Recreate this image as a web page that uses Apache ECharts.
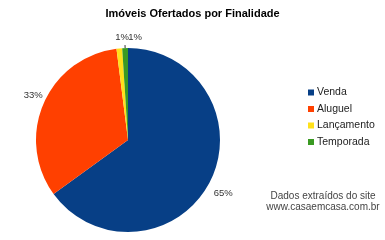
<!DOCTYPE html>
<html><head><meta charset="utf-8">
<script src="https://cdn.jsdelivr.net/npm/echarts@6/dist/echarts.min.js"></script>
<style>html,body{margin:0;padding:0;background:#fff}#c{width:385px;height:240px}</style>
</head><body><div id="c"></div>
<script>
const titleText = 'Imóveis Ofertados por Finalidade';
const categories = ['Venda', 'Aluguel', 'Lançamento', 'Temporada'];
const values = [65, 33, 1, 1];
const colors = ['#073F86', '#FF4000', '#FFE11B', '#3A9A22'];
const noteLines = ['Dados extraídos do site', 'www.casaemcasa.com.br'];

// small nudges of the outside labels to mimic the original placement
const labelShift = [[-4, 10], [7, -7], [15, -8], [22, -8]];

const chart = echarts.init(document.getElementById('c'));
chart.setOption({
  animation: false,
  backgroundColor: '#fff',
  color: colors,
  title: {
    text: titleText, left: 'center', top: 3,
    textStyle: { fontFamily: 'Liberation Sans, Arial', fontSize: 11, fontWeight: 'bold', color: '#000' }
  },
  legend: {
    orient: 'vertical', left: 303, top: 82, itemWidth: 6, itemHeight: 6, itemGap: 5.5,
    icon: 'rect', data: categories,
    textStyle: { fontFamily: 'Liberation Sans, Arial', fontSize: 10.5, color: '#222', padding: [0, 0, 0, -2] }
  },
  graphic: noteLines.map((t, i) => ({
    type: 'text', x: 323, y: 191 + i * 11,
    style: { text: t, fill: '#444', font: '10px "Liberation Sans", Arial', align: 'center' }
  })),
  series: [{
    type: 'pie', center: [128, 140], radius: 92, startAngle: 90,
    avoidLabelOverlap: false,
    data: categories.map((c, i) => ({
      name: c, value: values[i],
      labelLine: { show: i === 3, length: 3, length2: 0, lineStyle: { color: '#333', width: 1 } }
    })),
    label: {
      show: true, position: 'outside', formatter: '{d}%',
      fontFamily: 'Liberation Sans, Arial', fontSize: 9.5, color: '#333'
    },
    labelLine: { show: false, length: 6, length2: 2 },
    labelLayout: p => ({ dx: labelShift[p.dataIndex][0], dy: labelShift[p.dataIndex][1] }),
    itemStyle: { borderWidth: 0 }
  }]
});
</script></body></html>
